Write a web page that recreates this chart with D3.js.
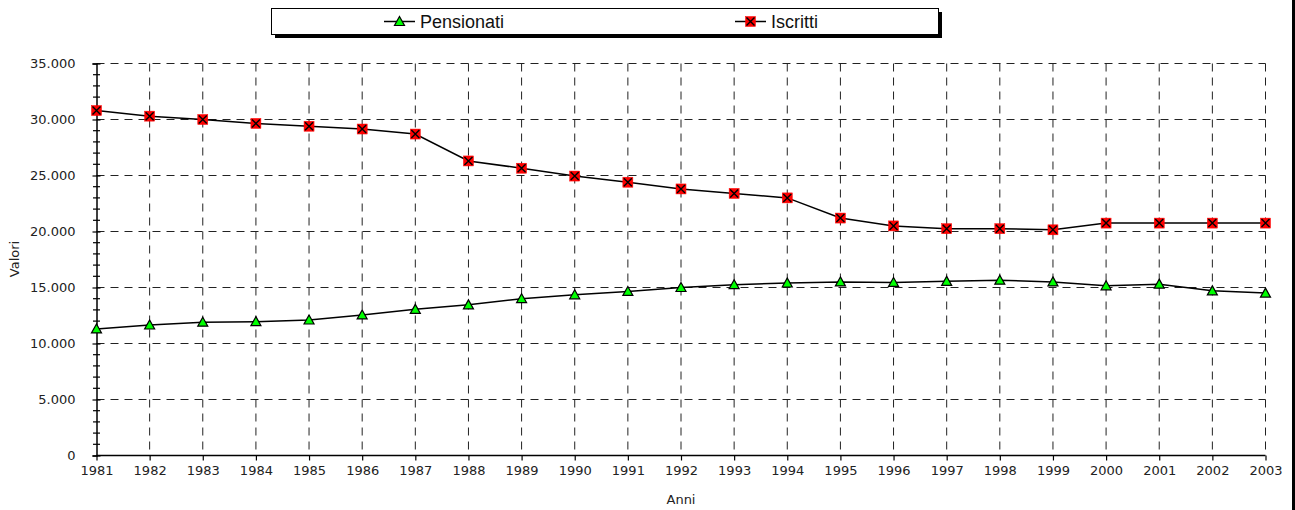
<!DOCTYPE html>
<html><head><meta charset="utf-8">
<script src="https://cdn.jsdelivr.net/npm/d3@7"></script>
<style>
html,body{margin:0;padding:0;background:#fff;}
svg{display:block;font-family:"DejaVu Sans",Verdana,sans-serif;}
</style></head>
<body>
<svg id="chart" width="1295" height="510"></svg>
<script>
const years = [1981,1982,1983,1984,1985,1986,1987,1988,1989,1990,1991,1992,1993,1994,1995,1996,1997,1998,1999,2000,2001,2002,2003];
const pensionati = [11300,11650,11900,11950,12100,12550,13050,13450,14000,14350,14650,15000,15250,15400,15500,15450,15550,15650,15500,15150,15300,14700,14500];
const iscritti = [30800,30300,30000,29650,29400,29150,28700,26300,25650,24950,24400,23800,23400,23000,21200,20500,20250,20250,20150,20750,20750,20750,20750];
const yTicks = [0,5000,10000,15000,20000,25000,30000,35000];
const seriesNames = ["Pensionati","Iscritti"];

const svg = d3.select("#chart");
const x = d3.scaleLinear().domain([1981,2003]).range([96.5,1265.5]);
const y = d3.scaleLinear().domain([0,35000]).range([455.5,63.5]);
const loc = d3.formatLocale({decimal:",",thousands:".",grouping:[3],currency:["",""]});
const fmt = loc.format(",");

// right-edge frame shadow
svg.append("rect").attr("x",1292).attr("y",0).attr("width",3).attr("height",510).attr("fill","#000");

// grid
const grid = svg.append("g").attr("stroke","#222").attr("stroke-width",1).attr("stroke-dasharray","8,6");
grid.selectAll("line.h").data(yTicks.filter(d=>d>0)).join("line")
  .attr("x1",x(1981)).attr("x2",x(2003)).attr("y1",d=>y(d)).attr("y2",d=>y(d));
grid.selectAll("line.v").data(years.slice(1)).join("line")
  .attr("x1",d=>x(d)).attr("x2",d=>x(d)).attr("y1",y(35000)).attr("y2",y(0));

// y axis
const yAxis = d3.axisLeft(y).tickValues(yTicks).tickFormat(fmt).tickSize(4).tickPadding(17);
const ya = svg.append("g").attr("transform",`translate(${x(1981)},0)`).call(yAxis);
ya.select(".domain").attr("stroke","#000").attr("stroke-width",1.5);
ya.selectAll(".tick line").attr("stroke","#000").attr("x2",-4).attr("x1",4).attr("stroke-width",1.2);
ya.selectAll(".tick text").attr("font-size","13px").attr("fill","#222").attr("font-family","DejaVu Sans, Verdana, sans-serif");
// minor ticks
const minor = d3.range(0,35001,1000).filter(d=>d%5000!==0);
svg.append("g").selectAll("line").data(minor).join("line")
  .attr("x1",x(1981)-3.5).attr("x2",x(1981)+3.5).attr("y1",d=>y(d)).attr("y2",d=>y(d))
  .attr("stroke","#000").attr("stroke-width",1.2);

// x axis
const xAxis = d3.axisBottom(x).tickValues(years).tickFormat(d3.format("d")).tickSize(5).tickPadding(5);
const xa = svg.append("g").attr("transform",`translate(0,${y(0)})`).call(xAxis);
xa.select(".domain").attr("stroke","#000").attr("stroke-width",1.5).attr("d",`M${x(1981)},0H${x(2003)}`);
xa.selectAll(".tick line").attr("stroke","#000").attr("stroke-width",1.2);
xa.selectAll(".tick text").attr("font-size","13px").attr("fill","#222").attr("font-family","DejaVu Sans, Verdana, sans-serif");

// axis titles
svg.append("text").attr("x",(x(1981)+x(2003))/2).attr("y",504).attr("text-anchor","middle")
  .attr("font-size","13px").attr("fill","#222").text("Anni");
svg.append("text").attr("transform","translate(19,259) rotate(-90)").attr("text-anchor","middle")
  .attr("font-size","13px").attr("fill","#222").text("Valori");

// lines
const line = d3.line().x((d,i)=>x(years[i])).y(d=>y(d));
svg.append("path").datum(pensionati).attr("d",line).attr("fill","none").attr("stroke","#000").attr("stroke-width",1.5);
svg.append("path").datum(iscritti).attr("d",line).attr("fill","none").attr("stroke","#000").attr("stroke-width",1.5);

function triangle(g,cx,cy){
  g.append("path").attr("d",`M${cx},${cy-5}L${cx+5},${cy+4}L${cx-5},${cy+4}Z`)
   .attr("fill","#00ff00").attr("stroke","#000").attr("stroke-width",1.2);
}
function square(g,cx,cy){
  g.append("rect").attr("x",cx-5).attr("y",cy-5).attr("width",10).attr("height",10)
   .attr("fill","#ff0000").attr("stroke","#ff0000").attr("stroke-width",0.5);
  g.append("path").attr("d",`M${cx-4},${cy-4}L${cx+4},${cy+4}M${cx+4},${cy-4}L${cx-4},${cy+4}`)
   .attr("stroke","#000").attr("stroke-width",1.4);
}
const mk = svg.append("g");
pensionati.forEach((v,i)=>triangle(mk,x(years[i]),y(v)));
iscritti.forEach((v,i)=>square(mk,x(years[i]),y(v)));

// legend
const lg = svg.append("g");
lg.append("rect").attr("x",275).attr("y",12).attr("width",667).attr("height",26).attr("fill","#000");
lg.append("rect").attr("x",271.5).attr("y",8.5).attr("width",667).attr("height",26).attr("fill","#fff").attr("stroke","#000").attr("stroke-width",1);
const legItems = [{name:seriesNames[0],lx:384,mark:triangle},{name:seriesNames[1],lx:735,mark:square}];
legItems.forEach(it=>{
  lg.append("line").attr("x1",it.lx).attr("x2",it.lx+31).attr("y1",21.5).attr("y2",21.5).attr("stroke","#000").attr("stroke-width",1.5);
  it.mark(lg,it.lx+15.5,21.5);
  lg.append("text").attr("x",it.lx+36).attr("y",28).attr("font-size","18px").attr("fill","#111")
    .attr("font-family","Liberation Sans, Arial, sans-serif").text(it.name);
});
</script>
</body></html>
